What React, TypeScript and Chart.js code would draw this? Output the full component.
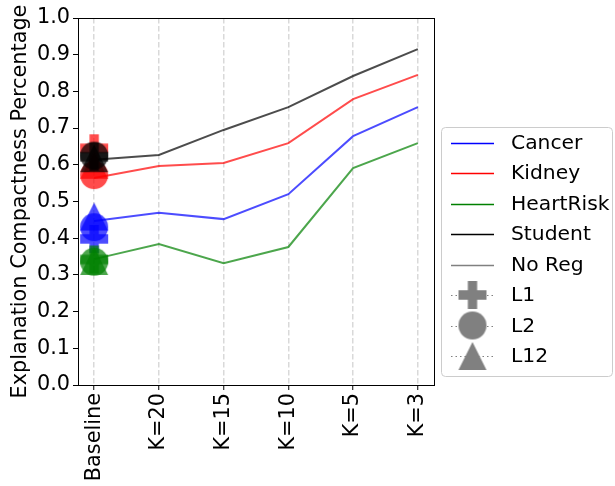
import React, { useEffect, useRef } from 'react';
import { Chart, registerables } from 'chart.js';

Chart.register(...registerables);

const categories = ['Baseline', 'K=20', 'K=15', 'K=10', 'K=5', 'K=3'];
const seriesNames = ['Cancer', 'Kidney', 'HeartRisk', 'Student'];
const regNames = ['L1', 'L2', 'L12'];

// "No Reg" series, one value per category
const cancerNoReg = [0.447, 0.469, 0.452, 0.52, 0.678, 0.757];
const kidneyNoReg = [0.564, 0.597, 0.605, 0.659, 0.779, 0.845];
const heartRiskNoReg = [0.343, 0.384, 0.332, 0.376, 0.591, 0.659];
const studentNoReg = [0.614, 0.627, 0.695, 0.757, 0.842, 0.915];

// Regularised baselines: L1, L2, L12
const cancerReg = [0.398, 0.43, 0.459];
const kidneyReg = [0.645, 0.572, 0.6];
const heartRiskReg = [0.342, 0.336, 0.338];
const studentReg = [0.622, 0.625, 0.618];

const yTicks = [0, 0.1, 0.2, 0.3, 0.4, 0.5, 0.6, 0.7, 0.8, 0.9, 1.0];

const noRegSeries = [cancerNoReg, kidneyNoReg, heartRiskNoReg, studentNoReg];
const regSeries = [cancerReg, kidneyReg, heartRiskReg, studentReg];
const rgb = ['0,0,255', '255,0,0', '0,128,0', '0,0,0'];
const FONT = "'DejaVu Sans', sans-serif";
const FS = 20.8;
const LFS = 20.3;

function markerCanvas(shape: string, color: string): HTMLCanvasElement {
  const size = 28;
  const c = document.createElement('canvas');
  const pad = 2;
  c.width = size + pad * 2;
  c.height = size + pad * 2;
  const ctx = c.getContext('2d')!;
  ctx.fillStyle = color;
  const cx = c.width / 2;
  const cy = c.height / 2;
  const h = size / 2;
  ctx.beginPath();
  if (shape === 'circle') {
    ctx.arc(cx, cy, h, 0, Math.PI * 2);
  } else if (shape === 'triangle') {
    ctx.moveTo(cx, cy - h);
    ctx.lineTo(cx + h, cy + h);
    ctx.lineTo(cx - h, cy + h);
    ctx.closePath();
  } else {
    const a = size / 6;
    const pts = [[-1, -3], [1, -3], [1, -1], [3, -1], [3, 1], [1, 1], [1, 3], [-1, 3], [-1, 1], [-3, 1], [-3, -1], [-1, -1]];
    pts.forEach((p, i) => {
      const x = cx + p[0] * a;
      const y = cy + p[1] * a;
      if (i === 0) ctx.moveTo(x, y);
      else ctx.lineTo(x, y);
    });
    ctx.closePath();
  }
  ctx.fill();
  return c;
}

const shapes = ['plus', 'circle', 'triangle'];

const frameAndLegend = {
  id: 'frameAndLegend',
  afterDraw(chart: any) {
    const ctx = chart.ctx as CanvasRenderingContext2D;
    const a = chart.chartArea;
    ctx.save();
    ctx.strokeStyle = '#000';
    ctx.lineWidth = 1;
    ctx.strokeRect(Math.round(a.left) + 0.5, Math.round(a.top) + 0.5, Math.round(a.right - a.left), Math.round(a.bottom - a.top));

    // legend box
    const lx = 441, ly = 127, lw = 171, lh = 249;
    ctx.beginPath();
    (ctx as any).roundRect(lx + 0.5, ly + 0.5, lw, lh, 4);
    ctx.fillStyle = 'rgba(255,255,255,0.8)';
    ctx.fill();
    ctx.strokeStyle = '#cccccc';
    ctx.stroke();

    const x0 = 451, x1 = 494, tx = 511;
    const rowY = (i: number) => 142.5 + i * 30.5;
    ctx.font = `${LFS}px ${FONT}`;
    ctx.textBaseline = 'middle';
    ctx.textAlign = 'left';
    const legendLineColors = ['#0000ff', '#ff0000', '#008000', '#000000', '#808080'];
    const lineLabels = [...seriesNames, 'No Reg'];
    lineLabels.forEach((lab, i) => {
      const y = Math.round(rowY(i)) + 0.5;
      ctx.strokeStyle = legendLineColors[i];
      ctx.lineWidth = 1.5;
      ctx.setLineDash([]);
      ctx.beginPath();
      ctx.moveTo(x0, y);
      ctx.lineTo(x1, y);
      ctx.stroke();
      ctx.fillStyle = '#000';
      ctx.fillText(lab, tx, rowY(i) + 1);
    });
    regNames.forEach((lab, j) => {
      const i = j + 5;
      const y = Math.round(rowY(i)) + 0.5;
      ctx.strokeStyle = '#808080';
      ctx.lineWidth = 1.2;
      ctx.setLineDash([1.5, 3]);
      ctx.beginPath();
      ctx.moveTo(x0, y);
      ctx.lineTo(x1, y);
      ctx.stroke();
      ctx.setLineDash([]);
      const m = markerCanvas(shapes[j], '#808080');
      ctx.drawImage(m, (x0 + x1) / 2 - m.width / 2, rowY(i) - m.height / 2);
      ctx.fillStyle = '#000';
      ctx.fillText(lab, tx, rowY(i) + 1);
    });
    ctx.restore();
  },
};

export default function App() {
  const ref = useRef<HTMLCanvasElement | null>(null);
  useEffect(() => {
    if (!ref.current) return;
    const datasets: any[] = [];
    noRegSeries.forEach((vals, s) => {
      datasets.push({
        type: 'line',
        label: seriesNames[s] + ' No Reg',
        data: vals.map((v, i) => ({ x: i, y: v })),
        borderColor: `rgba(${rgb[s]},0.7)`,
        backgroundColor: `rgba(${rgb[s]},0.7)`,
        borderWidth: 2,
        pointRadius: 0,
        tension: 0,
        order: 100 - s * 2,
      });
    });
    regSeries.forEach((vals, s) => {
      const imgs = shapes.map((sh) => markerCanvas(sh, `rgba(${rgb[s]},0.7)`));
      vals.forEach((v, j) => {
        datasets.push({
          type: 'scatter',
          label: seriesNames[s] + ' ' + regNames[j],
          data: [{ x: 0, y: v }],
          pointStyle: imgs[j],
          pointRadius: 14,
          showLine: false,
          order: 50 - s * 3 - j,
        });
      });
    });
    const chart = new Chart(ref.current, {
      type: 'line',
      data: { datasets },
      plugins: [frameAndLegend],
      options: {
        animation: false,
        responsive: false,
        maintainAspectRatio: false,
        devicePixelRatio: 1,
        layout: { padding: { top: 18, right: 181, left: 0, bottom: 0 } },
        plugins: { legend: { display: false }, tooltip: { enabled: false } },
        scales: {
          x: {
            type: 'linear',
            min: -0.25,
            max: 5.25,
            afterBuildTicks: (s: any) => {
              s.ticks = categories.map((_, i) => ({ value: i }));
            },
            afterFit: (s: any) => {
              s.height = 101;
            },
            ticks: {
              callback: (v: any) => categories[Math.round(v)] ?? '',
              autoSkip: false,
              maxRotation: 90,
              minRotation: 90,
              color: '#000',
              padding: 3,
              font: { family: FONT, size: FS },
            },
            grid: {
              color: '#d9d9d9',
              lineWidth: 1.5,
              tickColor: '#000',
              tickLength: 5,
              tickWidth: 1,
            },
            border: { display: false, dash: [5.5, 2.5] },
          },
          y: {
            type: 'linear',
            min: 0,
            max: 1,
            afterBuildTicks: (s: any) => {
              s.ticks = yTicks.map((v) => ({ value: v }));
            },
            afterFit: (s: any) => {
              s.width = 78;
            },
            ticks: {
              callback: (v: any) => Number(v).toFixed(1),
              color: '#000',
              padding: 3,
              font: { family: FONT, size: FS },
            },
            grid: {
              drawOnChartArea: false,
              tickColor: '#000',
              tickLength: 5,
              tickWidth: 1,
            },
            border: { display: false },
            title: {
              display: true,
              text: 'Explanation Compactness Percentage',
              color: '#000',
              font: { family: FONT, size: FS },
              padding: { top: 8.5, bottom: 0 },
            },
          },
        },
      },
    });
    return () => chart.destroy();
  }, []);
  return (
    <div style={{ position: 'fixed', left: 0, top: 0, width: 615, height: 486, background: '#fff' }}>
      <canvas ref={ref} width={615} height={486} style={{ width: 615, height: 486 }} />
    </div>
  );
}
